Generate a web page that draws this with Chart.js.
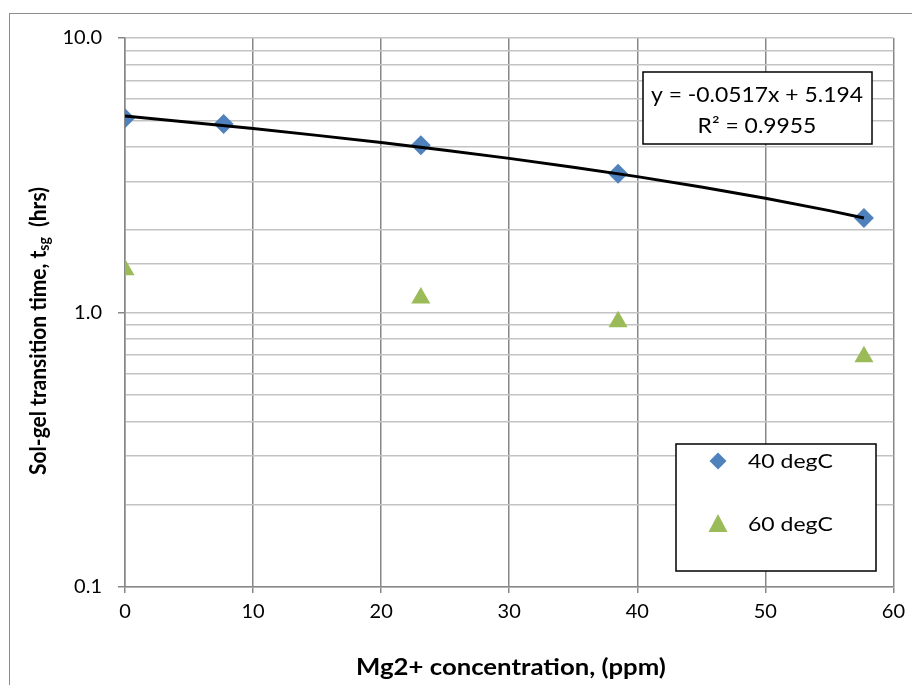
<!DOCTYPE html>
<html>
<head>
<meta charset="utf-8">
<script src="https://cdn.jsdelivr.net/npm/chart.js@4"></script>
<style>
    html, body { margin: 0; padding: 0; background: #fff; }
    #wrap { position: relative; width: 912px; height: 685px; overflow: hidden; }
    #frame { position: absolute; left: 9px; top: 13px; width: 920px; height: 700px;
             border-left: 1.5px solid #8c8c8c; border-top: 1.5px solid #8c8c8c; }
    canvas { position: absolute; left: 0; top: 0; }
</style>
</head>
<body>
<div id="wrap">
    <div id="frame"></div>
    <canvas id="chart" width="912" height="685"></canvas>
</div>
<script>
// data
const mgPpm = [0, 7.7, 23.1, 38.5, 57.7];
const time40 = [5.10, 4.86, 4.07, 3.20, 2.21];
const mgPpm60 = [0, 23.1, 38.5, 57.7];
const time60 = [1.43, 1.13, 0.925, 0.69];
const xTicks = [0, 10, 20, 30, 40, 50, 60];
const yLabels = [0.1, 1.0, 10.0];

// trendline shown on the chart: y = -0.0517x + 5.194
const trendSlope = -0.0517;
const trendIntercept = 5.194;
const trendX = [0, 5, 10, 15, 20, 25, 30, 35, 40, 45, 50, 55, 57.7];

const FONT = 'Lato, "Liberation Sans", sans-serif';
const BLUE = '#4f81bd';
const GREEN = '#9bbb59';

function pts(xs, ys) {
    return xs.map((x, i) => ({ x: x, y: ys[i] }));
}

function isMajor(v) {
    return yLabels.some(m => Math.abs(m - v) < 1e-9);
}

function diamond(ctx, x, y, r) {
    ctx.beginPath();
    ctx.moveTo(x, y - r);
    ctx.lineTo(x + r, y);
    ctx.lineTo(x, y + r);
    ctx.lineTo(x - r, y);
    ctx.closePath();
    ctx.fill();
}

function triangle(ctx, x, y, r) {
    ctx.beginPath();
    ctx.moveTo(x, y - r);
    ctx.lineTo(x + r * 0.95, y + r * 0.8);
    ctx.lineTo(x - r * 0.95, y + r * 0.8);
    ctx.closePath();
    ctx.fill();
}

// text a bit wider than the font draws it (the original is stretched sideways)
function wideText(ctx, text, x, y, sx) {
    ctx.save();
    ctx.translate(x, y);
    ctx.scale(sx, 1);
    ctx.fillText(text, 0, 0);
    ctx.restore();
}

// equation box, legend box, axis titles
const extras = {
    id: 'extras',
    afterDraw(chart) {
        const ctx = chart.ctx;
        ctx.save();
        ctx.textBaseline = 'middle';

        // equation box
        ctx.fillStyle = '#fff';
        ctx.fillRect(643, 72, 229, 72);
        ctx.strokeStyle = '#000';
        ctx.lineWidth = 1.5;
        ctx.strokeRect(643, 72, 229, 72);
        ctx.fillStyle = '#000';
        ctx.font = '21px ' + FONT;
        ctx.textAlign = 'center';
        wideText(ctx, 'y = -0.0517x + 5.194', 757, 95, 1.09);
        wideText(ctx, 'R² = 0.9955', 757, 126, 1.09);

        // legend box
        ctx.fillStyle = '#fff';
        ctx.fillRect(676, 444, 200, 127);
        ctx.strokeRect(676, 444, 200, 127);
        ctx.fillStyle = BLUE;
        diamond(ctx, 718, 461, 8.5);
        ctx.fillStyle = GREEN;
        triangle(ctx, 718, 524, 10);
        ctx.fillStyle = '#000';
        ctx.font = '20px ' + FONT;
        ctx.textAlign = 'left';
        wideText(ctx, '40 degC', 748, 462, 1.15);
        wideText(ctx, '60 degC', 748, 525, 1.15);

        // x axis title
        ctx.font = 'bold 22px ' + FONT;
        ctx.textAlign = 'center';
        wideText(ctx, 'Mg2+ concentration, (ppm)', 511, 668, 1.17);

        // y axis title with subscript
        ctx.textAlign = 'left';
        ctx.translate(38, 331);
        ctx.rotate(-Math.PI / 2);
        ctx.scale(1, 1.12);
        const main = 'Sol-gel transition time, t';
        const sub = 'sg';
        const rest = '  (hrs)';
        ctx.font = 'bold 21px ' + FONT;
        const w1 = ctx.measureText(main).width;
        const w3 = ctx.measureText(rest).width;
        ctx.font = 'bold 14px ' + FONT;
        const w2 = ctx.measureText(sub).width;
        let x = -(w1 + w2 + w3) / 2;
        ctx.font = 'bold 21px ' + FONT;
        ctx.fillText(main, x, 0);
        x += w1;
        ctx.font = 'bold 14px ' + FONT;
        ctx.fillText(sub, x, 5);
        x += w2;
        ctx.font = 'bold 21px ' + FONT;
        ctx.fillText(rest, x, 0);

        ctx.restore();
    }
};

new Chart(document.getElementById('chart').getContext('2d'), {
    type: 'scatter',
    data: {
        datasets: [{
            label: 'trend',
            data: pts(trendX, trendX.map(x => trendSlope * x + trendIntercept)),
            showLine: true,
            borderColor: '#000',
            borderWidth: 3,
            pointRadius: 0,
            tension: 0,
            order: 0
        }, {
            label: '40 degC',
            data: pts(mgPpm, time40),
            pointStyle: 'rectRot',
            pointRadius: 10,
            backgroundColor: BLUE,
            borderWidth: 0,
            order: 1
        }, {
            label: '60 degC',
            data: pts(mgPpm60, time60),
            pointStyle: 'triangle',
            pointRadius: 11,
            backgroundColor: GREEN,
            borderWidth: 0,
            order: 2
        }]
    },
    options: {
        responsive: false,
        animation: false,
        layout: { padding: { left: 0, top: 38, right: 17, bottom: 0 } },
        scales: {
            x: {
                type: 'linear',
                min: 0,
                max: 60,
                afterBuildTicks: scale => { scale.ticks = xTicks.map(v => ({ value: v })); },
                afterFit: scale => { scale.height = 98; },
                ticks: {
                    color: '#000',
                    font: { family: FONT, size: 20 },
                    padding: 7
                },
                grid: {
                    color: '#878787',
                    lineWidth: 1.5,
                    tickLength: 6,
                    tickColor: '#878787'
                },
                border: { color: '#878787', width: 1.5 }
            },
            y: {
                type: 'logarithmic',
                min: 0.1,
                max: 10,
                afterFit: scale => { scale.width = 125; },
                ticks: {
                    autoSkip: false,
                    color: '#000',
                    font: { family: FONT, size: 20 },
                    padding: 16,
                    callback: v => isMajor(v) ? v.toFixed(1) : ''
                },
                grid: {
                    color: '#c3c3c3',
                    lineWidth: 1.5,
                    tickLength: 7,
                    tickColor: ctx => isMajor(ctx.tick.value) ? '#878787' : 'rgba(0,0,0,0)'
                },
                border: { color: '#878787', width: 1.5 }
            }
        },
        plugins: {
            legend: { display: false },
            tooltip: { enabled: false }
        }
    },
    plugins: [extras]
});
</script>
</body>
</html>
